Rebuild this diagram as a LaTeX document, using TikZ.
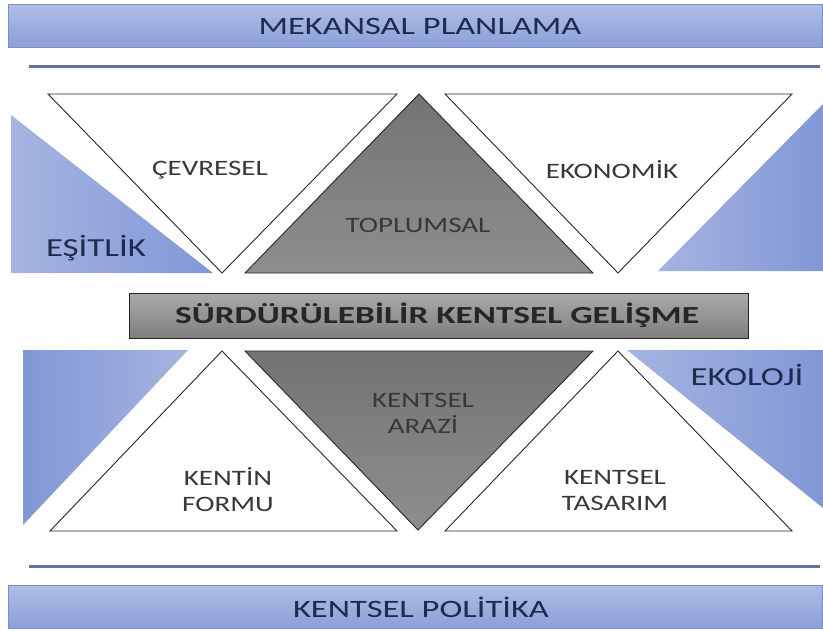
\documentclass[tikz,border=0pt]{standalone}
\usepackage{fontspec}
\setmainfont{Carlito}
\definecolor{bluetop}{HTML}{AEBDE6}
\definecolor{bluebot}{HTML}{8CA0D8}
\definecolor{barborder}{HTML}{7A8FC4}
\definecolor{bluelight}{HTML}{A5B4E0}
\definecolor{bluedark}{HTML}{8197D6}
\definecolor{grayA}{HTML}{737373}
\definecolor{grayB}{HTML}{8E8E8E}
\definecolor{midtop}{HTML}{AAAAAA}
\definecolor{midbot}{HTML}{7E7E7E}
\definecolor{linecol}{HTML}{5E7599}
\definecolor{txtgray}{HTML}{383838}
\definecolor{txtnavy}{HTML}{1E2B4E}
\begin{document}
\begin{tikzpicture}[x=1pt,y=-1pt,
  bluebar/.style={draw=barborder, top color=bluetop, bottom color=bluebot, line width=1pt},
  bluetri/.style={left color=bluelight, right color=bluedark},
  bluetrir/.style={left color=bluedark, right color=bluelight},
  whitetri/.style={draw=black!85, fill=white, line width=0.9pt, line join=miter},
  graytri/.style={draw=black!85, top color=grayA, bottom color=grayB, line width=0.9pt},
  midbar/.style={draw=black!85, top color=midtop, bottom color=midbot, line width=1pt},
  sepline/.style={draw=linecol, line width=3pt},
  lbl/.style={text=txtgray, font=\fontsize{22}{26}\selectfont, align=center, inner sep=0pt, xscale=1.32, transform shape},
  barlbl/.style={text=txtnavy, font=\fontsize{25}{30}\selectfont, inner sep=0pt, xscale=1.38, transform shape},
  biglbl/.style={text=txtnavy, font=\fontsize{26}{30}\selectfont, inner sep=0pt, xscale=1.34, transform shape},
  midlbl/.style={text=black!85, font=\bfseries\fontsize{24.5}{28}\selectfont, inner sep=0pt, xscale=1.44, transform shape}]
\useasboundingbox (0,0) rectangle (823,630);
% bars
\path[bluebar] (8,4) rectangle (822,47);
\node[barlbl] (mp) at (420,26) {MEKANSAL PLANLAMA};
\path[sepline] (29,66) -- (820,66);
\path[sepline] (29,566) -- (820,566);
\path[bluebar] (8,585) rectangle (822,628);
\node[barlbl] (kp) at (421,607) {KENTSEL POLİTİKA};
% upper row
\path[bluetri] (11,115) -- (11,273) -- (213,273) -- cycle;
\path[bluetri] (823,104) -- (823,271) -- (658,271) -- cycle;
\path[whitetri] (48,94) -- (397,94) -- (222,273) -- cycle;
\path[graytri] (419,94) -- (593,273) -- (245,273) -- cycle;
\path[whitetri] (445,94) -- (792,94) -- (618,273) -- cycle;
\node[lbl] (cev) at (210,170) {ÇEVRESEL};
\node[lbl] (top) at (418,225) {TOPLUMSAL};
\node[lbl] (eko) at (612,170) {EKONOMİK};
\node[biglbl] (esit) at (96,248) {EŞİTLİK};
% middle bar
\path[midbar] (129,293) rectangle (748,338);
\node[midlbl] (sk) at (437,315) {SÜRDÜRÜLEBİLİR KENTSEL GELİŞME};
% lower row
\path[bluetrir] (23,350) -- (188,350) -- (23,525) -- cycle;
\path[bluetri] (627,350) -- (823,350) -- (823,508) -- cycle;
\path[whitetri] (222,351) -- (397,531) -- (50,531) -- cycle;
\path[graytri] (245,351) -- (593,351) -- (418,530) -- cycle;
\path[whitetri] (618,351) -- (792,531) -- (445,531) -- cycle;
\node[lbl] (ka) at (423,413) {KENTSEL\\ARAZİ};
\node[lbl] (kf) at (228,490) {KENTİN\\FORMU};
\node[lbl] (kt) at (615,490) {KENTSEL\\TASARIM};
\node[biglbl] (ekol) at (747,375) {EKOLOJİ};
\end{tikzpicture}
\end{document}
